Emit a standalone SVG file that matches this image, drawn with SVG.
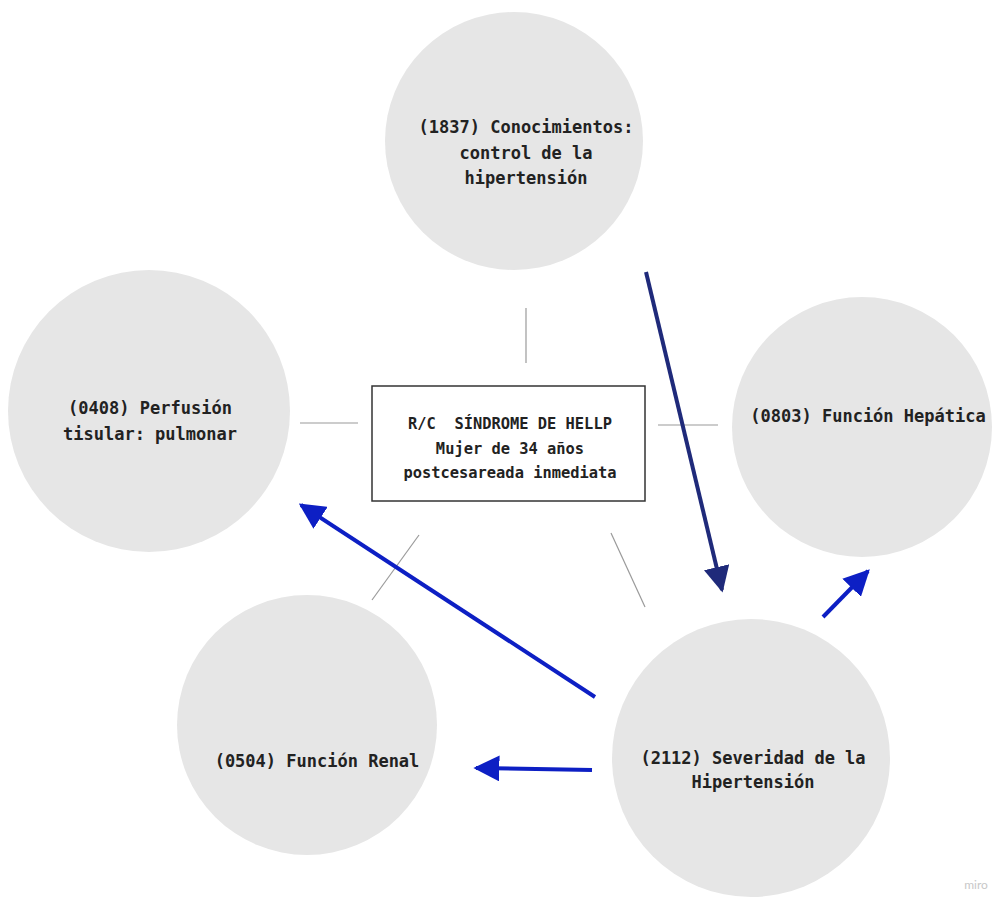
<svg xmlns="http://www.w3.org/2000/svg" width="996" height="901" viewBox="0 0 996 901">
<style>
.c{fill:#e6e6e6}
.t{font-family:"DejaVu Sans Mono","Liberation Mono",monospace;font-weight:bold;font-size:17px;fill:#222;text-anchor:middle}
.b{font-size:15.4px}
.g{stroke:#9a9a9a;stroke-width:1.2}
.a1{stroke:#1f2a7a;stroke-width:4;fill:none}
.a2{stroke:#0d1fc4;stroke-width:4;fill:none}
</style>
<defs>
<marker id="h1" viewBox="0 0 10 10" refX="9" refY="5" markerWidth="6.5" markerHeight="6.5" markerUnits="strokeWidth" orient="auto"><path d="M0,0L10,5L0,10z" fill="#1f2a7a"/></marker>
<marker id="h2" viewBox="0 0 10 10" refX="9" refY="5" markerWidth="6.5" markerHeight="6.5" markerUnits="strokeWidth" orient="auto"><path d="M0,0L10,5L0,10z" fill="#0d1fc4"/></marker>
</defs>
<rect width="996" height="901" fill="#fff"/>
<g id="n1837"><circle class="c" cx="514" cy="141" r="129"/>
<text class="t" x="526" y="133">(1837) Conocimientos:</text>
<text class="t" x="526" y="159">control de la</text>
<text class="t" x="526" y="184">hipertensión</text></g>
<g id="n0408"><circle class="c" cx="149" cy="411" r="141"/>
<text class="t" x="150" y="414">(0408) Perfusión</text>
<text class="t" x="150" y="440">tisular: pulmonar</text></g>
<g id="n0803"><circle class="c" cx="862" cy="427" r="130"/>
<text class="t" x="868" y="422">(0803) Función Hepática</text></g>
<g id="n0504"><circle class="c" cx="307" cy="725" r="130"/>
<text class="t" x="317" y="767">(0504) Función Renal</text></g>
<g id="n2112"><circle class="c" cx="751" cy="758" r="139"/>
<text class="t" x="753" y="764">(2112) Severidad de la</text>
<text class="t" x="753" y="788">Hipertensión</text></g>
<g id="center"><rect x="372" y="386" width="273" height="115" fill="#fff" stroke="#333" stroke-width="1.5"/>
<text class="t b" x="510" y="429" xml:space="preserve">R/C  SÍNDROME DE HELLP</text>
<text class="t b" x="510" y="454">Mujer de 34 años</text>
<text class="t b" x="510" y="478">postcesareada inmediata</text></g>
<g id="connectors">
<line class="g" x1="526" y1="308" x2="526" y2="363"/>
<line class="g" x1="300" y1="423" x2="358" y2="423"/>
<line class="g" x1="658" y1="425" x2="718" y2="425"/>
<line class="g" x1="419" y1="535" x2="372" y2="600"/>
<line class="g" x1="611" y1="533" x2="645" y2="607"/>
<line class="a1" x1="646" y1="272" x2="722" y2="590" marker-end="url(#h1)"/>
<line class="a2" x1="595" y1="697" x2="301" y2="505" marker-end="url(#h2)"/>
<line class="a2" x1="592" y1="770" x2="476" y2="768" marker-end="url(#h2)"/>
<line class="a2" x1="823" y1="617" x2="868" y2="571" marker-end="url(#h2)"/>
</g>
<text x="976" y="889" font-family="Lato,sans-serif" font-size="12" fill="#c8c8c8" text-anchor="middle">miro</text>
</svg>
